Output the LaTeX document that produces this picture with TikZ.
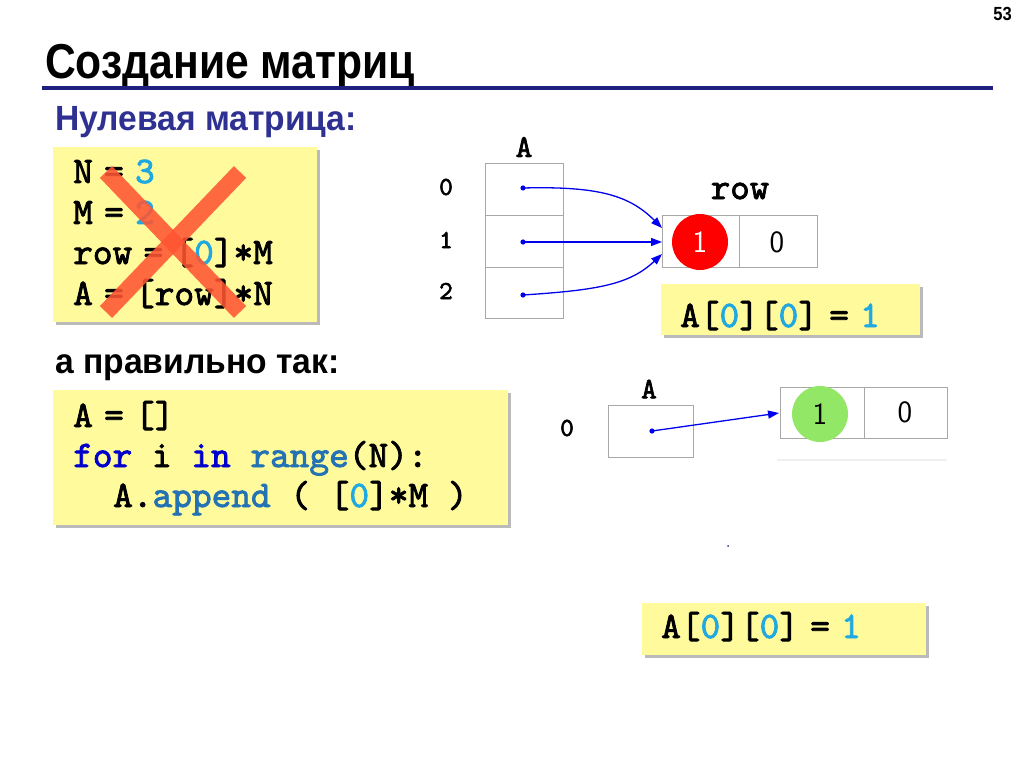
\documentclass[tikz,border=0pt]{standalone}
\usepackage{fontspec}
\setmainfont{Liberation Sans}
\newfontfamily\courfont[Extension=.otf, FakeBold=2.2]{lmmono10-regular}
\newfontfamily\narrowfont[FakeStretch=0.87]{Liberation Sans}
\newfontfamily\subfont[FakeStretch=0.96]{Liberation Sans}
\usetikzlibrary{shadows,arrows.meta}
\definecolor{codeyellow}{HTML}{FFFB9D}
\definecolor{numcyan}{HTML}{20A8E0}
\definecolor{kwblue}{HTML}{0000CC}
\definecolor{fnblue}{HTML}{2272B4}
\definecolor{subblue}{HTML}{2E3192}
\definecolor{rulenavy}{HTML}{1F1F80}
\definecolor{cellgray}{HTML}{A8A8A8}
\definecolor{crossred}{HTML}{FF5533}
\definecolor{arrowblue}{HTML}{0000EE}
\definecolor{dotred}{HTML}{FF0000}
\definecolor{dotgreen}{HTML}{92E866}
\newcommand\myeq{\hspace{0.3em}=\hspace{0.3em}}
\newcommand\cn[1]{\textcolor{numcyan}{#1}}
\newcommand\kw[1]{\textcolor{kwblue}{#1}}
\newcommand\fn[1]{\textcolor{fnblue}{#1}}
\newcommand\codefont{\courfont\fontsize{37.5}{37.5}\selectfont}
\tikzset{
  codebox/.style={fill=codeyellow, draw=none, inner sep=0pt,
    drop shadow={shadow xshift=3pt, shadow yshift=-3pt, fill=black!45, opacity=0.6}},
  codeline/.style={anchor=base west, inner sep=0pt, font=\codefont},
  cell/.style={draw=cellgray, line width=1.3pt, inner sep=0pt, anchor=north west},
  ptr/.style={draw=arrowblue, line width=1.3pt, -{Triangle[length=11pt,width=8pt]}},
  idx/.style={inner sep=0pt, font=\courfont\fontsize{26}{26}\selectfont},
  lbl/.style={inner sep=0pt, font=\courfont\fontsize{32}{32}\selectfont},
  valtext/.style={inner sep=0pt, font=\sffamily\fontsize{31}{31}\selectfont},
  crossline/.style={draw=crossred, line width=17pt, opacity=0.88},
}
\begin{document}
\begin{tikzpicture}[x=1pt,y=-1pt]
\useasboundingbox[fill=white] (0,0) rectangle (1024,767);

% header
\node[anchor=north east, inner sep=0pt] (page) at (1012,7) {\narrowfont\bfseries\fontsize{19}{19}\selectfont 53};
\node[anchor=base west, inner sep=0pt] (title) at (45,79) {\narrowfont\bfseries\fontsize{49}{49}\selectfont Создание матриц};
\draw[rulenavy, line width=4pt] (42,88) -- (993,88);
\node[anchor=base west, inner sep=0pt, text=subblue] (sub1) at (55,131) {\subfont\bfseries\fontsize{35}{35}\selectfont Нулевая матрица:};
\node[anchor=base west, inner sep=0pt, text=black] (sub2) at (55,373) {\subfont\bfseries\fontsize{35}{35}\selectfont а правильно так:};

% code box 1
\node[codebox, anchor=north west, minimum width=264pt, minimum height=175pt] (box1) at (53,147) {};
\node[codeline] (l1) at (73,183) {N\myeq\cn{3}};
\node[codeline] (l2) at (73,224) {M\myeq\cn{2}};
\node[codeline] (l3) at (73,264) {row\myeq[\cn{0}]*M};
\node[codeline] (l4) at (73,305) {A\myeq[row]*N};
\draw[crossline] (106,172) -- (240,312);
\draw[crossline] (240,172) -- (106,312);

% code box 2
\node[codebox, anchor=north west, minimum width=455pt, minimum height=135pt] (box2) at (53,390) {};
\node[codeline] (m1) at (73,427) {A\myeq[]};
\node[codeline] (m2) at (73,467) {\kw{for} i \kw{in} \fn{range}(N):};
\node[codeline] (m3) at (113,507) {A.\fn{append} ( [\cn{0}]*M )};

% top-right diagram
\node[lbl] (alabel) at (524,147) {A};
\node[cell, minimum width=78pt, minimum height=52pt] (a0) at (485,163) {};
\node[cell, minimum width=78pt, minimum height=52pt] (a1) at (485,215) {};
\node[cell, minimum width=78pt, minimum height=51pt] (a2) at (485,267) {};
\node[idx] (i0) at (446,187) {0};
\node[idx] (i1) at (446,240) {1};
\node[idx] (i2) at (446,291) {2};
\node[lbl, font=\courfont\fontsize{37}{37}\selectfont] (rowlabel) at (740,191) {row};
\node[cell, minimum width=77pt, minimum height=52pt] (r0) at (662,215) {};
\node[cell, minimum width=78pt, minimum height=52pt] (r1) at (739,215) {};
\node[circle, fill=dotred, minimum size=56pt, inner sep=0pt, text=white, font=\sffamily\fontsize{31}{31}\selectfont] (one) at (700,242) {1};
\node[valtext] (zero) at (777,242) {0};
\coordinate (p0) at (523,188);
\coordinate (p1) at (523,242);
\coordinate (p2) at (523,295);
\coordinate (t0) at (662,228);
\coordinate (t1) at (662,242);
\coordinate (t2) at (662,254);
\fill[arrowblue] (p0) circle (2.6pt);
\fill[arrowblue] (p1) circle (2.6pt);
\fill[arrowblue] (p2) circle (2.6pt);
\draw[ptr] (p0) .. controls (600,186) and (630,196) .. (t0);
\draw[ptr] (p1) -- (t1);
\draw[ptr] (p2) .. controls (600,290) and (630,284) .. (t2);

\node[codebox, anchor=north west, minimum width=259pt, minimum height=51pt] (box3) at (661,284) {};
\node[codeline] (n1) at (680,327) {A[\cn{0}][\cn{0}]\myeq\cn{1}};

% bottom-right diagram
\node[lbl, font=\courfont\fontsize{30}{30}\selectfont] (blabel) at (649,389) {A};
\node[idx] (j0) at (567,428) {0};
\node[cell, minimum width=85pt, minimum height=52pt] (b0) at (608,405) {};
\node[cell, minimum width=84pt, minimum height=51pt] (s0) at (780,387) {};
\node[cell, minimum width=83pt, minimum height=51pt] (s1) at (864,387) {};
\node[circle, fill=dotgreen, minimum size=56pt, inner sep=0pt, text=black, font=\sffamily\fontsize{31}{31}\selectfont] (oneg) at (820,414) {1};
\node[valtext] (zerog) at (905,412) {0};
\draw[black!6, line width=1.5pt] (777,460) -- (947,460);
\coordinate (q0) at (652,431);
\coordinate (u0) at (779,413);
\fill[arrowblue] (q0) circle (2.6pt);
\draw[ptr] (q0) -- (u0);
\fill[subblue] (728,546) circle (1pt);

\node[codebox, anchor=north west, minimum width=284pt, minimum height=52pt] (box4) at (642,603) {};
\node[codeline] (n2) at (661,638) {A[\cn{0}][\cn{0}]\myeq\cn{1}};
\end{tikzpicture}
\end{document}
